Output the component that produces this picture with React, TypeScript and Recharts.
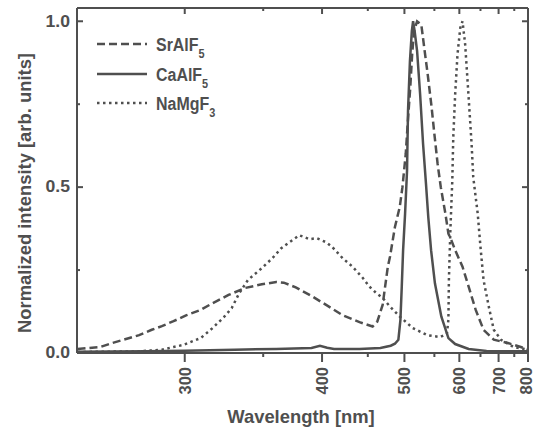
import { LineChart, Line, XAxis, YAxis } from "recharts";

const srWavelength = [251, 260, 265, 271, 277, 283, 288, 294, 301, 309, 316, 326, 337, 349, 360, 366, 376, 391, 404, 421, 440, 456, 462, 469, 476, 479, 486, 493, 497, 502, 506, 509, 512, 515, 520, 527, 532, 538, 545, 550, 556, 562, 571, 577, 583, 591, 607, 621, 638, 658, 686, 729, 773, 800];
const srIntensity = [0.012, 0.018, 0.03, 0.042, 0.054, 0.07, 0.081, 0.096, 0.114, 0.13, 0.15, 0.175, 0.196, 0.207, 0.214, 0.212, 0.198, 0.17, 0.145, 0.114, 0.093, 0.08, 0.095, 0.145, 0.26, 0.29, 0.38, 0.44, 0.5, 0.6, 0.72, 0.8, 0.9, 0.97, 1.0, 0.99, 0.92, 0.84, 0.74, 0.66, 0.57, 0.5, 0.42, 0.36, 0.34, 0.31, 0.26, 0.2, 0.13, 0.07, 0.04, 0.03, 0.018, 0.01];

const caWavelength = [251, 280, 300, 330, 360, 390, 398, 405, 412, 440, 466, 480, 486, 491, 494, 496, 498, 501, 504, 505.5, 508.5, 511.5, 513.5, 516, 520, 525, 530, 535, 539, 544, 551, 563, 577, 591, 621, 666, 750, 800];
const caIntensity = [0.004, 0.005, 0.007, 0.01, 0.012, 0.015, 0.022, 0.016, 0.012, 0.012, 0.015, 0.022, 0.028, 0.04, 0.1, 0.2, 0.31, 0.42, 0.55, 0.73, 0.88, 0.97, 1.0, 0.97, 0.91, 0.78, 0.63, 0.51, 0.41, 0.31, 0.21, 0.11, 0.045, 0.027, 0.012, 0.006, 0.005, 0.005];

const naWavelength = [251, 277, 288, 294, 299, 309, 316, 323, 328, 333, 339, 349, 357, 364, 373, 379, 383, 388, 395, 404, 410, 421, 432, 444, 452, 461, 469, 479, 493, 513, 537, 561, 574, 577, 578, 581, 585, 587, 591, 596, 602, 607, 613, 618, 623, 628, 632, 643, 650, 658, 672, 686, 707, 748, 800];
const naIntensity = [0.003, 0.005, 0.01, 0.018, 0.024, 0.045, 0.075, 0.108, 0.135, 0.18, 0.22, 0.256, 0.286, 0.316, 0.34, 0.355, 0.35, 0.343, 0.346, 0.334, 0.32, 0.286, 0.26, 0.226, 0.2, 0.18, 0.166, 0.14, 0.11, 0.075, 0.054, 0.048, 0.058, 0.1, 0.22, 0.37, 0.52, 0.65, 0.78, 0.9, 0.98, 1.0, 0.93, 0.83, 0.73, 0.63, 0.53, 0.42, 0.32, 0.22, 0.14, 0.07, 0.04, 0.018, 0.01];

const majorWavelengths = [300, 400, 500, 600, 700, 800];
const minorWavelengths = [350, 450, 550, 650, 750];
const yTicks = [0, 0.25, 0.5, 0.75, 1];
const yLabeled = [0, 0.5, 1];

const ink = "#4f4f4f";
const font = "'Liberation Sans', Arial, sans-serif";

// x axis is linear in 1/wavelength (1000/nm)
const toPoints = (wl: number[], iv: number[]) => wl.map((w, i) => ({ k: 1000 / w, v: iv[i] }));
const srData = toPoints(srWavelength, srIntensity);
const caData = toPoints(caWavelength, caIntensity);
const naData = toPoints(naWavelength, naIntensity);

const xTicks = [...majorWavelengths, ...minorWavelengths].map(w => 1000 / w);
const xDomain = [1000 / 800, 1000 / 250.8];

const isMajorX = (k: number) => majorWavelengths.includes(Math.round(1000 / k));

const BottomTick = (props: any) => {
  const { x, y, payload } = props;
  const wl = Math.round(1000 / payload.value);
  const major = isMajorX(payload.value);
  // last label sits on the right edge, nudge it inward a little
  const dx = wl === 800 ? -2 : 0;
  return (
    <g>
      <line x1={x} x2={x} y1={y} y2={y + (major ? 9 : 4)} stroke={ink} strokeWidth={2} />
      {major && (
        <text
          transform={`translate(${x + dx}, ${y + 14}) rotate(-90)`}
          textAnchor="end"
          dominantBaseline="central"
          fontFamily={font}
          fontWeight="bold"
          fontSize={16.5}
          fill={ink}
        >
          {wl}
        </text>
      )}
    </g>
  );
};

const TopTick = (props: any) => {
  const { x, y, payload } = props;
  const major = isMajorX(payload.value);
  return <line x1={x} x2={x} y1={y} y2={y + (major ? 6 : 3)} stroke={ink} strokeWidth={2} />;
};

const LeftTick = (props: any) => {
  const { x, y, payload } = props;
  const major = yLabeled.includes(payload.value);
  return (
    <g>
      <line x1={x} x2={x + (major ? 6 : 3)} y1={y} y2={y} stroke={ink} strokeWidth={2} />
      {major && (
        <text
          transform={`translate(${x - 7}, ${y}) scale(1.1, 1)`}
          textAnchor="end"
          dominantBaseline="central"
          fontFamily={font}
          fontWeight="bold"
          fontSize={16}
          fill={ink}
        >
          {payload.value.toFixed(1)}
        </text>
      )}
    </g>
  );
};

const RightTick = (props: any) => {
  const { x, y, payload } = props;
  const major = yLabeled.includes(payload.value);
  return <line x1={x} x2={x - (major ? 6 : 3)} y1={y} y2={y} stroke={ink} strokeWidth={2} />;
};

const legendItems = [
  { name: "SrAlF", sub: "5", dash: "8 4", y: 44 },
  { name: "CaAlF", sub: "5", dash: undefined, y: 74 },
  { name: "NaMgF", sub: "3", dash: "2.5 3.5", y: 103 },
];

export default function App() {
  const axisLine = { stroke: ink, strokeWidth: 2 };
  return (
    <div style={{ position: "absolute", left: 0, top: 0, width: 536, height: 432, background: "#fff" }}>
      <LineChart width={536} height={432} margin={{ top: 0, right: 0, bottom: 0, left: 0 }}>
        <XAxis
          xAxisId="b"
          type="number"
          dataKey="k"
          domain={xDomain}
          allowDataOverflow
          reversed
          ticks={xTicks}
          interval={0}
          height={79}
          tickSize={0}
          tickMargin={0}
          tickLine={false}
          axisLine={axisLine}
          tick={BottomTick}
        />
        <XAxis
          xAxisId="t"
          orientation="top"
          type="number"
          dataKey="k"
          domain={xDomain}
          allowDataOverflow
          reversed
          ticks={xTicks}
          interval={0}
          height={8}
          tickSize={0}
          tickMargin={0}
          tickLine={false}
          axisLine={axisLine}
          tick={TopTick}
        />
        <YAxis
          yAxisId="l"
          type="number"
          domain={[0, 1.04]}
          allowDataOverflow
          ticks={yTicks}
          interval={0}
          width={77}
          tickSize={0}
          tickMargin={0}
          tickLine={false}
          axisLine={axisLine}
          tick={LeftTick}
        />
        <YAxis
          yAxisId="r"
          orientation="right"
          type="number"
          domain={[0, 1.04]}
          allowDataOverflow
          ticks={yTicks}
          interval={0}
          width={8}
          tickSize={0}
          tickMargin={0}
          tickLine={false}
          axisLine={axisLine}
          tick={RightTick}
        />
        <Line xAxisId="b" yAxisId="l" data={srData} dataKey="v" type="linear" stroke={ink} strokeWidth={2.5} strokeDasharray="8 4" dot={false} isAnimationActive={false} />
        <Line xAxisId="b" yAxisId="l" data={caData} dataKey="v" type="linear" stroke={ink} strokeWidth={2.5} dot={false} isAnimationActive={false} />
        <Line xAxisId="b" yAxisId="l" data={naData} dataKey="v" type="linear" stroke={ink} strokeWidth={2.5} strokeDasharray="2.5 3.5" dot={false} isAnimationActive={false} />
      </LineChart>
      <svg width={536} height={432} style={{ position: "absolute", left: 0, top: 0, pointerEvents: "none" }}>
        {legendItems.map(item => (
          <g key={item.name}>
            <line x1={97} x2={147} y1={item.y} y2={item.y} stroke={ink} strokeWidth={2.5} strokeDasharray={item.dash} />
            <text
              transform={`translate(156, ${item.y + 7}) scale(0.84, 1)`}
              fontFamily={font}
              fontWeight="bold"
              fontSize={19}
              fill={ink}
            >
              {item.name}
              <tspan dy={7} fontSize={13}>{item.sub}</tspan>
            </text>
          </g>
        ))}
        <text
          transform="translate(24, 193) rotate(-90)"
          textAnchor="middle"
          dominantBaseline="central"
          fontFamily={font}
          fontWeight="bold"
          fontSize={18.4}
          fill={ink}
        >
          Normalized intensity [arb. units]
        </text>
        <text x={301} y={423} textAnchor="middle" fontFamily={font} fontWeight="bold" fontSize={18.4} fill={ink}>
          Wavelength [nm]
        </text>
      </svg>
    </div>
  );
}
